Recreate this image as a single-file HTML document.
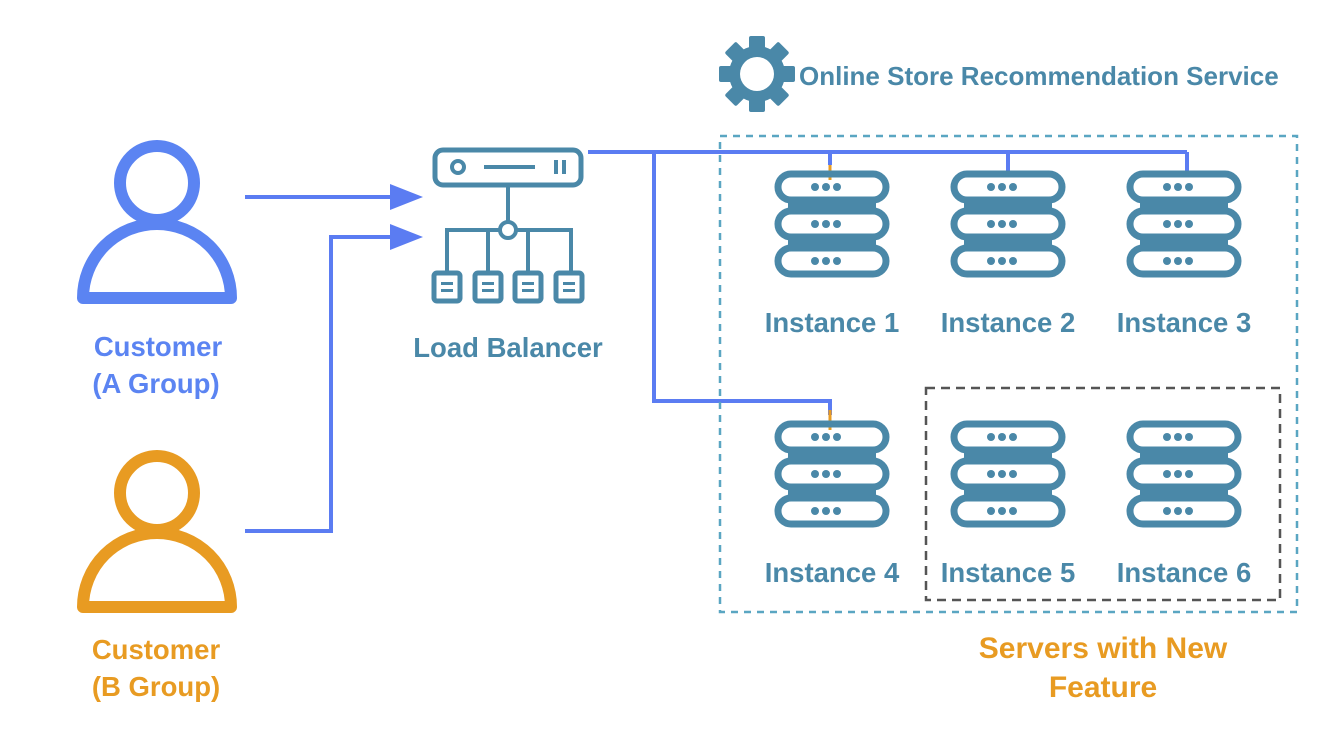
<!DOCTYPE html>
<html><head><meta charset="utf-8"><style>
body{margin:0;background:#fff;}
svg{display:block}
text{font-family:"Liberation Sans",sans-serif;font-weight:bold;}
</style></head><body>
<svg width="1322" height="734" viewBox="0 0 1322 734" xmlns="http://www.w3.org/2000/svg">
<defs>
<g id="srv">
  <rect x="-54" y="2" width="108" height="26" rx="13" fill="none" stroke="#4a88a8" stroke-width="7"/>
  <rect x="-54" y="39" width="108" height="26" rx="13" fill="none" stroke="#4a88a8" stroke-width="7"/>
  <rect x="-54" y="76" width="108" height="26" rx="13" fill="none" stroke="#4a88a8" stroke-width="7"/>
  <rect x="-44" y="28" width="88" height="11" fill="#4a88a8"/>
  <rect x="-44" y="65" width="88" height="11" fill="#4a88a8"/>
  <g fill="#4a88a8">
    <circle cx="-17" cy="15" r="4"/><circle cx="-6" cy="15" r="4"/><circle cx="5" cy="15" r="4"/>
    <circle cx="-17" cy="52" r="4"/><circle cx="-6" cy="52" r="4"/><circle cx="5" cy="52" r="4"/>
    <circle cx="-17" cy="89" r="4"/><circle cx="-6" cy="89" r="4"/><circle cx="5" cy="89" r="4"/>
  </g>
</g>
<g id="box">
  <rect x="0" y="0" width="26" height="28" rx="3" fill="none" stroke="#4a88a8" stroke-width="5"/>
  <rect x="7" y="9" width="12" height="3" fill="#4a88a8"/><rect x="7" y="16" width="12" height="3" fill="#4a88a8"/>
</g>
</defs>

<circle cx="157" cy="183" r="37" fill="none" stroke="#5b84f2" stroke-width="12"/>
<path d="M83 298 A74 74 0 0 1 231 298 Z" fill="none" stroke="#5b84f2" stroke-width="12" stroke-linejoin="round"/>
<circle cx="157" cy="493" r="37" fill="none" stroke="#e89b22" stroke-width="12"/>
<path d="M83 607 A74 74 0 0 1 231 607 Z" fill="none" stroke="#e89b22" stroke-width="12" stroke-linejoin="round"/>
<text x="158" y="356" font-size="27.5" fill="#5b84f2" text-anchor="middle">Customer</text>
<text x="156" y="393" font-size="27.5" fill="#5b84f2" text-anchor="middle">(A Group)</text>
<text x="156" y="659" font-size="27.5" fill="#e89b22" text-anchor="middle">Customer</text>
<text x="156" y="696" font-size="27.5" fill="#e89b22" text-anchor="middle">(B Group)</text>

<g stroke="#5b7cf2" stroke-width="4" fill="none">
<line x1="245" y1="197" x2="395" y2="197"/>
<polyline points="245,531 331,531 331,237 395,237"/>
<polyline points="588,152 1187,152"/>
<line x1="830" y1="152" x2="830" y2="165"/>
<line x1="1008" y1="152" x2="1008" y2="172"/>
<line x1="1187" y1="152" x2="1187" y2="172"/>
<polyline points="654,152 654,401 830,401 830,415"/>
</g>
<line x1="830" y1="165" x2="830" y2="180" stroke="#e89b22" stroke-width="3"/>
<line x1="830" y1="410" x2="830" y2="430" stroke="#e89b22" stroke-width="3"/>
<polygon points="390,184 423,197 390,210" fill="#5b7cf2"/>
<polygon points="390,224 423,237 390,250" fill="#5b7cf2"/>

<rect x="435" y="150" width="146" height="35" rx="8" fill="none" stroke="#4a88a8" stroke-width="5"/>
<circle cx="458" cy="167" r="6" fill="none" stroke="#4a88a8" stroke-width="4"/>
<line x1="484" y1="167" x2="535" y2="167" stroke="#4a88a8" stroke-width="4"/>
<line x1="556" y1="160" x2="556" y2="174" stroke="#4a88a8" stroke-width="4"/>
<line x1="564" y1="160" x2="564" y2="174" stroke="#4a88a8" stroke-width="4"/>
<line x1="508" y1="185" x2="508" y2="222" stroke="#4a88a8" stroke-width="4"/>
<polyline points="447,274 447,230 571,230 571,274" fill="none" stroke="#4a88a8" stroke-width="4"/>
<line x1="488" y1="230" x2="488" y2="274" stroke="#4a88a8" stroke-width="4"/>
<line x1="528" y1="230" x2="528" y2="274" stroke="#4a88a8" stroke-width="4"/>
<circle cx="508" cy="230" r="8" fill="#fff" stroke="#4a88a8" stroke-width="4"/>
<use href="#box" x="434" y="273"/><use href="#box" x="475" y="273"/><use href="#box" x="515" y="273"/><use href="#box" x="556" y="273"/>
<text x="508" y="357" font-size="27.5" fill="#4a88a8" text-anchor="middle">Load Balancer</text>

<g transform="translate(757,74)" fill="#4a88a8">
  <circle r="28"/>
  <rect x="-8" y="-38" width="16" height="76" rx="2"/>
  <rect x="-8" y="-38" width="16" height="76" rx="2" transform="rotate(45)"/>
  <rect x="-8" y="-38" width="16" height="76" rx="2" transform="rotate(90)"/>
  <rect x="-8" y="-38" width="16" height="76" rx="2" transform="rotate(135)"/>
  <circle r="17" fill="#fff"/>
</g>
<text x="799" y="85" font-size="26" fill="#4a88a8">Online Store Recommendation Service</text>

<rect x="720" y="136" width="577" height="476" fill="none" stroke="#5aa6c2" stroke-width="2.5" stroke-dasharray="7,6"/>
<rect x="926" y="388" width="354" height="212" fill="none" stroke="#555" stroke-width="2.5" stroke-dasharray="9,6"/>

<use href="#srv" x="832" y="172"/>
<use href="#srv" x="1008" y="172"/>
<use href="#srv" x="1184" y="172"/>
<use href="#srv" x="832" y="422"/>
<use href="#srv" x="1008" y="422"/>
<use href="#srv" x="1184" y="422"/>
<g font-size="27.5" fill="#4a88a8" text-anchor="middle">
<text x="832" y="332">Instance 1</text>
<text x="1008" y="332">Instance 2</text>
<text x="1184" y="332">Instance 3</text>
<text x="832" y="582">Instance 4</text>
<text x="1008" y="582">Instance 5</text>
<text x="1184" y="582">Instance 6</text>
</g>
<text x="1103" y="658" font-size="30" fill="#e89b22" text-anchor="middle">Servers with New</text>
<text x="1103" y="697" font-size="30" fill="#e89b22" text-anchor="middle">Feature</text>
</svg>
</body></html>
